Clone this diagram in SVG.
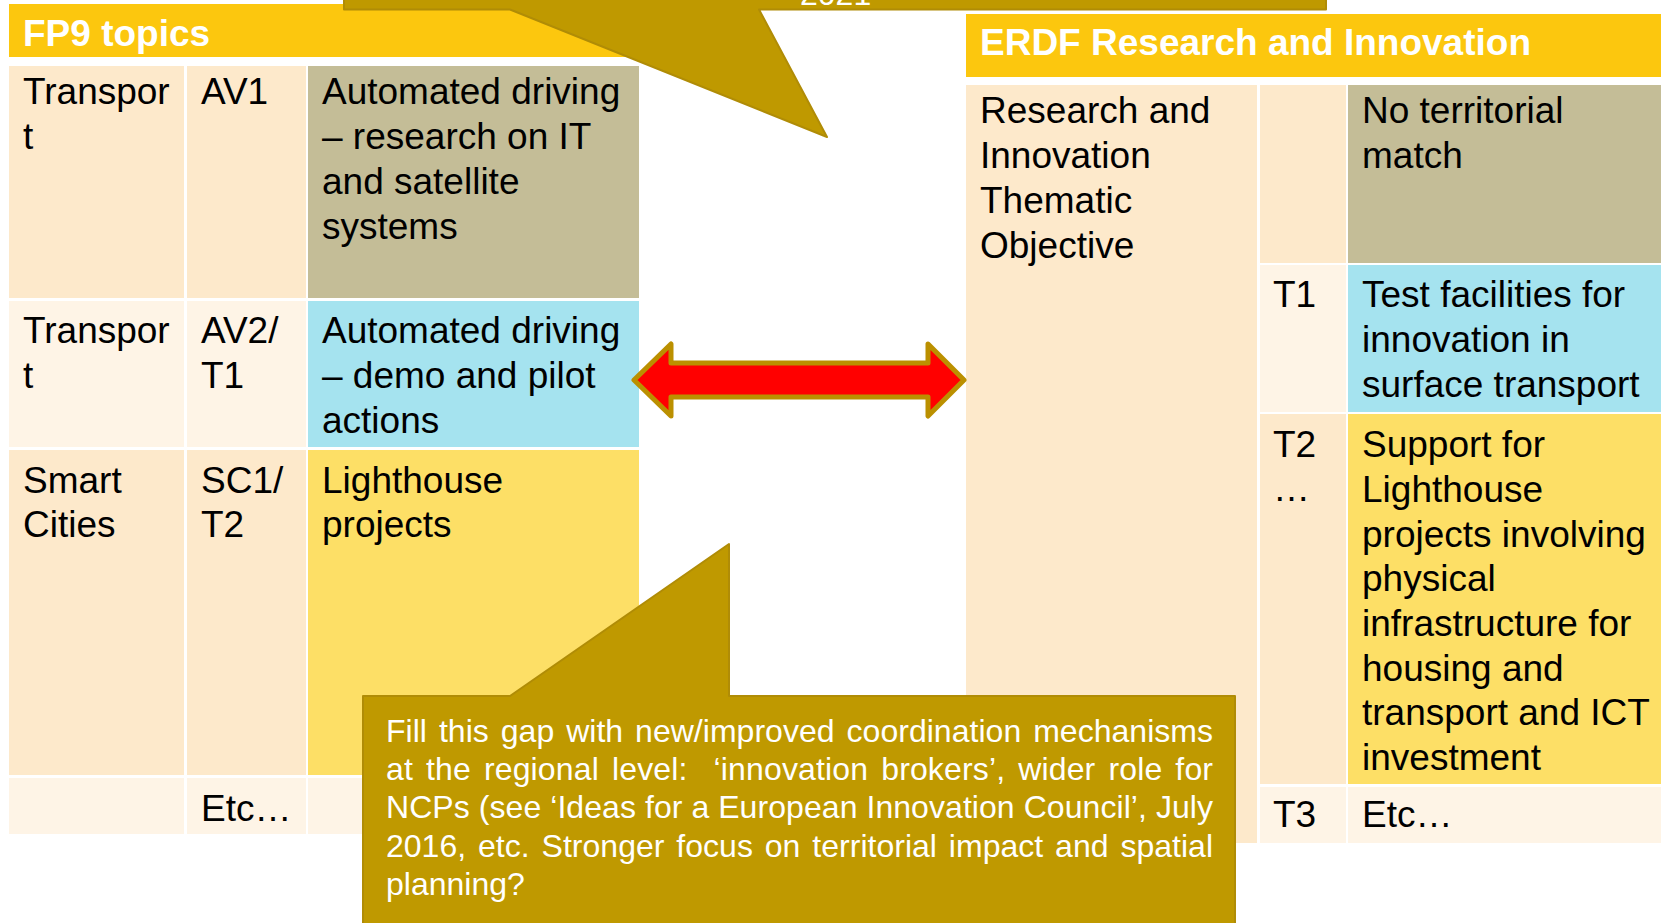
<svg xmlns="http://www.w3.org/2000/svg" width="1661" height="923" viewBox="0 0 1661 923">
<style>
.t{font-family:"Liberation Sans",Arial,sans-serif;font-size:37px;fill:#000}
.h{font-family:"Liberation Sans",Arial,sans-serif;font-size:37px;font-weight:bold;fill:#fff}
.c{font-family:"Liberation Sans",Arial,sans-serif;font-size:32px;fill:#fff}
.hd{fill:#FCC70E}
.pe{fill:#FDE9CB}
.li{fill:#FEF4E6}
.kh{fill:#C4BD97}
.bl{fill:#A5E3EF}
.ye{fill:#FDDF66}
.co{fill:#BF9900;stroke:#B08C06;stroke-width:2;stroke-linejoin:round}
</style>
<rect width="1661" height="923" fill="#fff"/>

<g id="fp9-table">
<rect class="hd" x="9" y="4" width="630" height="53"/>
<text class="h" x="23" y="46">FP9 topics</text>
<rect class="pe" x="9" y="66" width="175" height="232"/>
<rect class="pe" x="187" y="66" width="119" height="232"/>
<rect class="kh" x="308" y="66" width="331" height="232"/>
<rect class="li" x="9" y="301" width="175" height="146"/>
<rect class="li" x="187" y="301" width="119" height="146"/>
<rect class="bl" x="308" y="301" width="331" height="146"/>
<rect class="pe" x="9" y="450" width="175" height="325"/>
<rect class="pe" x="187" y="450" width="119" height="325"/>
<rect class="ye" x="308" y="450" width="331" height="325"/>
<rect class="li" x="9" y="778" width="175" height="56"/>
<rect class="li" x="187" y="778" width="119" height="56"/>
<rect class="li" x="308" y="778" width="331" height="56"/>
<text class="t" x="23" y="104">Transpor</text>
<text class="t" x="23" y="149">t</text>
<text class="t" x="201" y="104">AV1</text>
<text class="t" x="322" y="104">Automated driving</text>
<text class="t" x="322" y="149">– research on IT</text>
<text class="t" x="322" y="194">and satellite</text>
<text class="t" x="322" y="239">systems</text>
<text class="t" x="23" y="343">Transpor</text>
<text class="t" x="23" y="388">t</text>
<text class="t" x="201" y="343">AV2/</text>
<text class="t" x="201" y="388">T1</text>
<text class="t" x="322" y="343">Automated driving</text>
<text class="t" x="322" y="388">– demo and pilot</text>
<text class="t" x="322" y="433">actions</text>
<text class="t" x="23" y="493">Smart</text>
<text class="t" x="23" y="537">Cities</text>
<text class="t" x="201" y="493">SC1/</text>
<text class="t" x="201" y="537">T2</text>
<text class="t" x="322" y="493">Lighthouse</text>
<text class="t" x="322" y="537">projects</text>
<text class="t" x="201" y="821">Etc…</text>
</g>

<g id="erdf-table">
<rect class="hd" x="966" y="14" width="695" height="63"/>
<text class="h" x="980" y="55">ERDF Research and Innovation</text>
<rect class="pe" x="966" y="85" width="291" height="758"/>
<rect class="pe" x="1260" y="85" width="86" height="178"/>
<rect class="kh" x="1348" y="85" width="313" height="178"/>
<rect class="li" x="1260" y="265" width="86" height="147"/>
<rect class="bl" x="1348" y="265" width="313" height="147"/>
<rect class="pe" x="1260" y="414" width="86" height="370"/>
<rect class="ye" x="1348" y="414" width="313" height="370"/>
<rect class="li" x="1260" y="787" width="86" height="56"/>
<rect class="li" x="1348" y="787" width="313" height="56"/>
<text class="t" x="980" y="123">Research and</text>
<text class="t" x="980" y="168">Innovation</text>
<text class="t" x="980" y="213">Thematic</text>
<text class="t" x="980" y="258">Objective</text>
<text class="t" x="1362" y="123">No territorial</text>
<text class="t" x="1362" y="168">match</text>
<text class="t" x="1273" y="307">T1</text>
<text class="t" x="1362" y="307">Test facilities for</text>
<text class="t" x="1362" y="352">innovation in</text>
<text class="t" x="1362" y="397">surface transport</text>
<text class="t" x="1273" y="457">T2</text>
<text class="t" x="1273" y="501">…</text>
<text class="t" x="1362" y="457">Support for</text>
<text class="t" x="1362" y="502">Lighthouse</text>
<text class="t" x="1362" y="547">projects involving</text>
<text class="t" x="1362" y="591">physical</text>
<text class="t" x="1362" y="636">infrastructure for</text>
<text class="t" x="1362" y="681">housing and</text>
<text class="t" x="1362" y="725">transport and ICT</text>
<text class="t" x="1362" y="770">investment</text>
<text class="t" x="1273" y="827">T3</text>
<text class="t" x="1362" y="827">Etc…</text>
</g>

<g id="top-callout">
<path class="co" d="M344,-20 H1326 V9.5 H759 L827,137 L510,9.5 H344 Z"/>
<text class="c" x="800" y="5">2021</text>
</g>

<g id="bottom-callout">
<path class="co" d="M363,696 H510 L729,544 V696 H1235 V940 H363 Z"/>
<text class="c" x="386" y="742" word-spacing="3" textLength="827" lengthAdjust="spacing">Fill this gap with new/improved coordination mechanisms</text>
<text class="c" x="386" y="780" word-spacing="4" textLength="827" lengthAdjust="spacing">at the regional level:&#160; ‘innovation brokers’, wider role for</text>
<text class="c" x="386" y="818" textLength="827" lengthAdjust="spacing">NCPs (see ‘Ideas for a European Innovation Council’, July</text>
<text class="c" x="386" y="857" word-spacing="3" textLength="827" lengthAdjust="spacing">2016, etc. Stronger focus on territorial impact and spatial</text>
<text class="c" x="386" y="895">planning?</text>
</g>

<g id="connectors">
<path d="M634,380 L671,344 V363 H928 V344 L964,380 L928,416 V397 H671 V416 Z" fill="#FF0000" stroke="#BB9000" stroke-width="5" stroke-linejoin="round"/>
</g>
</svg>
